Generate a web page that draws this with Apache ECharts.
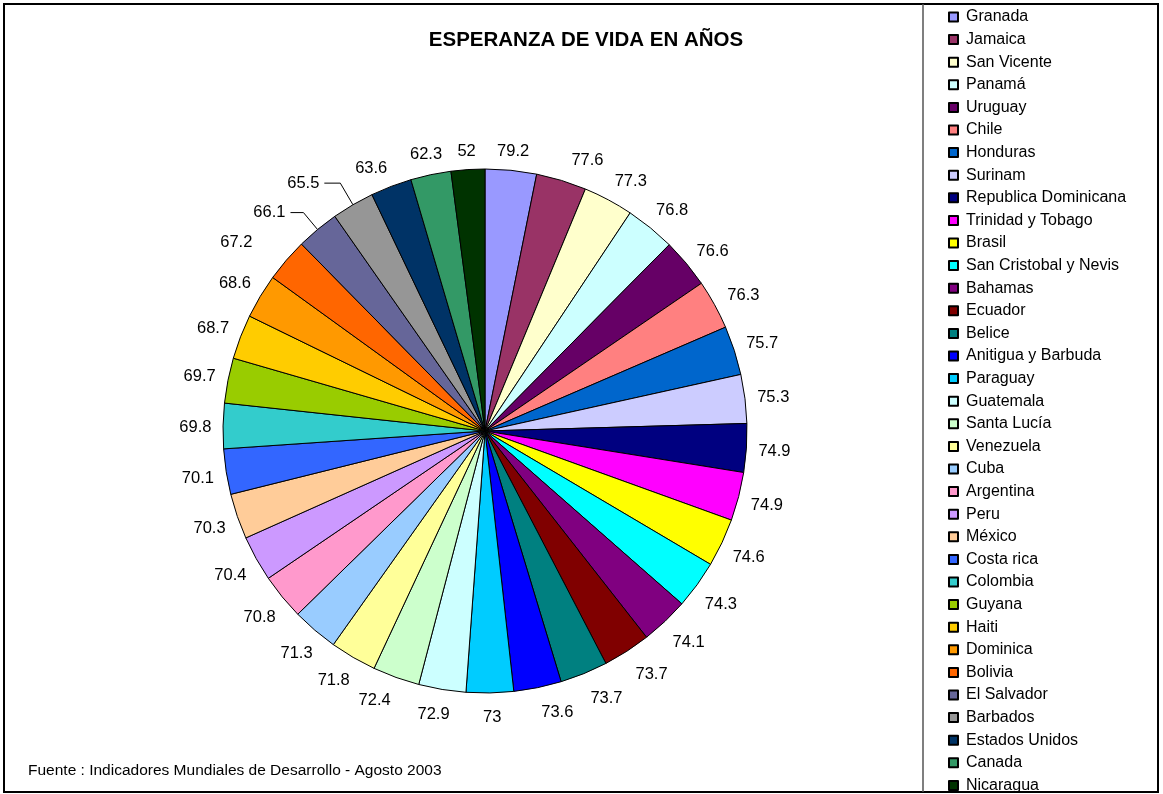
<!DOCTYPE html>
<html>
<head>
<meta charset="utf-8">
<title>Esperanza de vida</title>
<script src="https://cdn.jsdelivr.net/npm/echarts@6/dist/echarts.min.js"></script>
<style>
  html, body { margin: 0; padding: 0; background: #fff; }
  #chart { width: 1163px; height: 794px; }
</style>
</head>
<body>
<div id="chart"></div>
<script>
// datos del grafico
const paises = ['Granada', 'Jamaica', 'San Vicente', 'Panamá', 'Uruguay', 'Chile', 'Honduras', 'Surinam',
  'Republica Dominicana', 'Trinidad y Tobago', 'Brasil', 'San Cristobal y Nevis', 'Bahamas', 'Ecuador',
  'Belice', 'Anitigua y Barbuda', 'Paraguay', 'Guatemala', 'Santa Lucía', 'Venezuela', 'Cuba', 'Argentina',
  'Peru', 'México', 'Costa rica', 'Colombia', 'Guyana', 'Haiti', 'Dominica', 'Bolivia', 'El Salvador',
  'Barbados', 'Estados Unidos', 'Canada', 'Nicaragua']
const esperanza = [79.2, 77.6, 77.3, 76.8, 76.6, 76.3, 75.7, 75.3, 74.9, 74.9, 74.6, 74.3, 74.1, 73.7,
  73.7, 73.6, 73, 72.9, 72.4, 71.8, 71.3, 70.8, 70.4, 70.3, 70.1, 69.8, 69.7, 68.7, 68.6, 67.2, 66.1,
  65.5, 63.6, 62.3, 52]
const colores = ['#9999FF', '#993366', '#FFFFCC', '#CCFFFF', '#660066', '#FF8080', '#0066CC', '#CCCCFF',
  '#000080', '#FF00FF', '#FFFF00', '#00FFFF', '#800080', '#800000', '#008080', '#0000FF', '#00CCFF',
  '#CCFFFF', '#CCFFCC', '#FFFF99', '#99CCFF', '#FF99CC', '#CC99FF', '#FFCC99', '#3366FF', '#33CCCC',
  '#99CC00', '#FFCC00', '#FF9900', '#FF6600', '#666699', '#969696', '#003366', '#339966', '#003300']
// etiquetas con linea guia: [largo, largo2]
const conGuia = { 'El Salvador': [22, 13], 'Barbados': [25, 16] }
// pequenos desplazamientos de etiquetas que Excel separa para que no choquen
const ajuste = {
  'Jamaica': [19, 1], 'San Vicente': [10, 3], 'Panamá': [4, 2], 'Uruguay': [4, 5], 'Chile': [3, 3],
  'Bahamas': [4, -2], 'Ecuador': [10, -2], 'Belice': [13, 0], 'Anitigua y Barbuda': [15, 0],
  'Paraguay': [2, 3], 'Guatemala': [-5, 1], 'Santa Lucía': [-13, -2], 'Venezuela': [-6, -2],
  'Bolivia': [-28, -1], 'Estados Unidos': [-11, 3]
}

const fuente = 'Liberation Sans, Arial, sans-serif'
const tamEtiqueta = 16.5
const centro = [485, 431]
const radio = 262
const anillo = 50

let chart = echarts.init(document.getElementById('chart'))

let datosPie = paises.map((p, i) => {
  let item = { name: p, value: esperanza[i], itemStyle: { color: colores[i] } }
  if (conGuia[p]) {
    item.label = { show: true }
    item.labelLine = { show: true, length: conGuia[p][0], length2: conGuia[p][1] }
  }
  return item
})

// las etiquetas quedan a una distancia fija del borde (como en Excel),
// segun el tamano de la caja del texto en la direccion del sector
let total = esperanza.reduce((a, b) => a + b, 0)
let acumulado = 0
let datosEtiquetas = paises.map((p, i) => {
  let v = esperanza[i]
  let ang = (acumulado + v / 2) / total * 2 * Math.PI
  acumulado += v
  let s = Math.sin(ang), c = Math.cos(ang)
  let txt = String(v)
  let ancho = 0
  for (let ch of txt) ancho += (ch === '.' ? 0.278 : 0.556) * tamEtiqueta
  let d = radio + 8.5 + (ancho / 2) * Math.abs(s) + (tamEtiqueta / 2) * Math.abs(c)
  let delta = d - (radio + anillo / 2)
  let extra = ajuste[p] || [0, 0]
  return {
    name: p,
    value: v,
    label: { show: !conGuia[p], offset: [delta * s + extra[0], -delta * c + 2 + extra[1]] }
  }
})

let option = {
  animation: false,
  title: {
    text: 'ESPERANZA DE VIDA EN AÑOS',
    left: 581,
    top: 25,
    textAlign: 'center',
    textStyle: { fontFamily: fuente, fontSize: 20.5, fontWeight: 'bold', color: '#000' }
  },
  legend: {
    orient: 'vertical',
    left: 948,
    top: 9,
    height: 790,
    padding: 0,
    itemWidth: 9,
    itemHeight: 9,
    itemGap: 6.6,
    icon: 'rect',
    data: paises,
    textStyle: { fontFamily: fuente, fontSize: 16, lineHeight: 16, color: '#000', padding: [0, 0, 0, 3] }
  },
  graphic: [
    {
      type: 'rect',
      shape: { x: 4, y: 4, width: 1154, height: 788 },
      style: { fill: 'none', stroke: '#000', lineWidth: 2 },
      silent: true
    },
    {
      type: 'line',
      shape: { x1: 923, y1: 4, x2: 923, y2: 792 },
      style: { stroke: '#555', lineWidth: 1.5 },
      silent: true
    },
    {
      type: 'text',
      left: 28,
      top: 763,
      style: {
        text: 'Fuente : Indicadores Mundiales de Desarrollo - Agosto 2003',
        font: '15.5px ' + fuente,
        fill: '#000'
      },
      silent: true
    }
  ],
  series: [
    {
      type: 'pie',
      center: centro,
      radius: radio,
      startAngle: 90,
      clockwise: true,
      avoidLabelOverlap: false,
      itemStyle: { borderColor: '#000', borderWidth: 1 },
      label: {
        show: false,
        position: 'outside',
        formatter: '{c}',
        fontFamily: fuente,
        fontSize: tamEtiqueta,
        color: '#000'
      },
      labelLine: { show: false, lineStyle: { color: '#000', width: 1 } },
      emphasis: { scale: false },
      data: datosPie
    },
    {
      // anillo invisible solo para colocar las etiquetas
      type: 'pie',
      center: centro,
      radius: [radio, radio + anillo],
      startAngle: 90,
      clockwise: true,
      silent: true,
      avoidLabelOverlap: false,
      itemStyle: { color: 'rgba(0,0,0,0)', borderWidth: 0 },
      label: {
        show: true,
        position: 'inside',
        rotate: 0,
        formatter: '{c}',
        fontFamily: fuente,
        fontSize: tamEtiqueta,
        color: '#000'
      },
      labelLine: { show: false },
      data: datosEtiquetas
    }
  ]
}
chart.setOption(option)
</script>
</body>
</html>
